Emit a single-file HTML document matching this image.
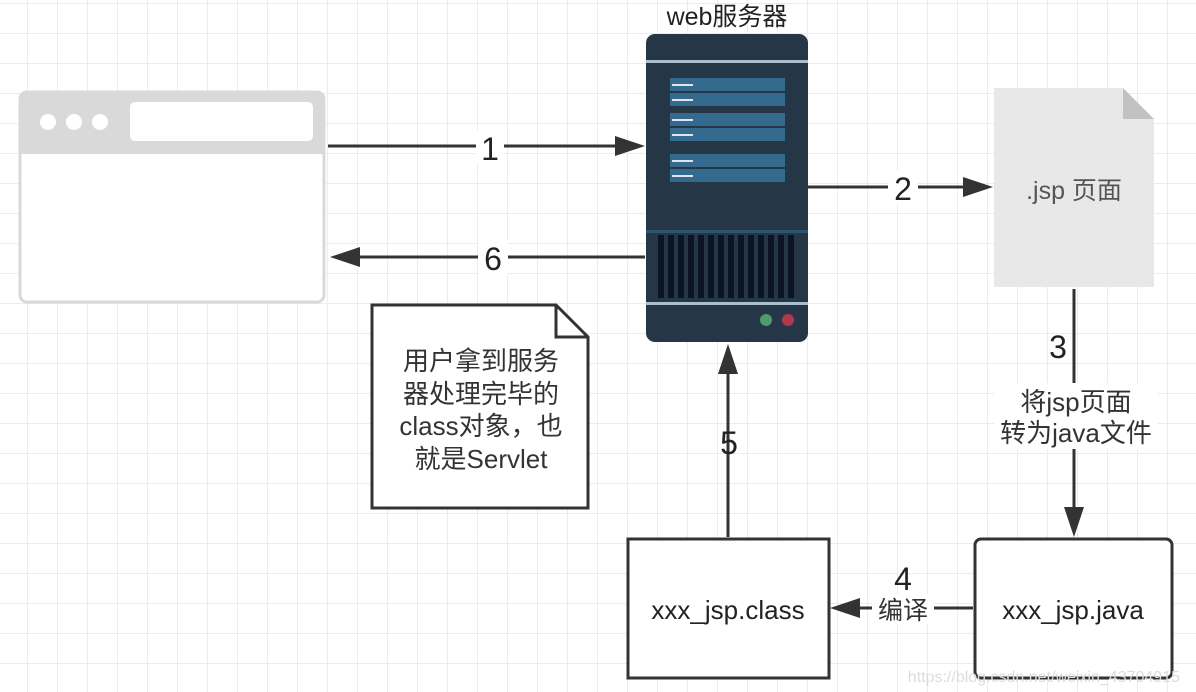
<!DOCTYPE html>
<html><head><meta charset="utf-8"><style>
html,body{margin:0;padding:0;background:#fff;}
svg{display:block;}
text{font-family:"Liberation Sans","Noto Sans CJK SC",sans-serif;}
</style></head><body>
<svg width="1196" height="692" viewBox="0 0 1196 692" xmlns="http://www.w3.org/2000/svg">
<defs>
<pattern id="g" x="27" y="3" width="30" height="30" patternUnits="userSpaceOnUse">
<path d="M0 0V30M0 0H30" stroke="#ececec" stroke-width="2" fill="none"/>
</pattern>
</defs>
<rect width="1196" height="692" fill="#fff"/>
<rect width="1196" height="692" fill="url(#g)"/>

<!-- browser -->
<rect x="20" y="92" width="304" height="210" rx="7" fill="#fff" stroke="#d9d9d9" stroke-width="3"/>
<path d="M20 99a7 7 0 0 1 7-7h290a7 7 0 0 1 7 7v55H20z" fill="#d9d9d9"/>
<circle cx="48" cy="122" r="8" fill="#fff"/><circle cx="74" cy="122" r="8" fill="#fff"/><circle cx="100" cy="122" r="8" fill="#fff"/>
<rect x="130" y="102" width="183" height="39" rx="5" fill="#fff"/>

<!-- server -->
<text x="727" y="25" font-size="25" fill="#222" text-anchor="middle">web服务器</text>
<rect x="646" y="34" width="162" height="308" rx="9" fill="#253746"/>
<rect x="646" y="60" width="162" height="3" fill="#a9bfd0"/>
<g fill="#346a8e">
<rect x="670" y="78" width="115" height="13"/><rect x="670" y="93" width="115" height="13"/>
<rect x="670" y="113" width="115" height="13"/><rect x="670" y="128" width="115" height="13"/>
<rect x="670" y="154" width="115" height="13"/><rect x="670" y="169" width="115" height="13"/>
</g>
<g fill="#dde6ee">
<rect x="672" y="84" width="21" height="2"/><rect x="672" y="99" width="21" height="2"/>
<rect x="672" y="119" width="21" height="2"/><rect x="672" y="134" width="21" height="2"/>
<rect x="672" y="160" width="21" height="2"/><rect x="672" y="175" width="21" height="2"/>
</g>
<rect x="646" y="230" width="162" height="3" fill="#2f5570"/>
<g fill="#0b1422">
<rect x="658" y="235" width="6" height="63"/><rect x="668" y="235" width="6" height="63"/><rect x="678" y="235" width="6" height="63"/><rect x="688" y="235" width="6" height="63"/><rect x="698" y="235" width="6" height="63"/><rect x="708" y="235" width="6" height="63"/><rect x="718" y="235" width="6" height="63"/><rect x="728" y="235" width="6" height="63"/><rect x="738" y="235" width="6" height="63"/><rect x="748" y="235" width="6" height="63"/><rect x="758" y="235" width="6" height="63"/><rect x="768" y="235" width="6" height="63"/><rect x="778" y="235" width="6" height="63"/><rect x="788" y="235" width="6" height="63"/>
</g>
<rect x="646" y="302" width="162" height="3" fill="#a9bfd0"/>
<circle cx="766" cy="320" r="6" fill="#4f9a6e"/><circle cx="788" cy="320" r="6" fill="#b0394f"/>

<!-- jsp doc -->
<path d="M994 88H1123L1154 119V287H994z" fill="#e8e8e8"/>
<path d="M1123 88L1154 119H1123z" fill="#c2c2c2"/>
<text x="1074" y="199" font-size="25" fill="#555" text-anchor="middle">.jsp 页面</text>

<!-- note -->
<path d="M372 305H556L588 337V508H372z" fill="#fff" stroke="#333" stroke-width="3"/>
<path d="M556 305V337H588" fill="none" stroke="#333" stroke-width="3"/>
<g font-size="26" fill="#333" text-anchor="middle">
<text x="481" y="370">用户拿到服务</text>
<text x="481" y="403">器处理完毕的</text>
<text x="481" y="435">class对象，也</text>
<text x="481" y="468">就是Servlet</text>
</g>

<!-- boxes -->
<rect x="628" y="539" width="201" height="139" fill="#fff" stroke="#333" stroke-width="3"/>
<text x="728" y="619" font-size="26" fill="#222" text-anchor="middle">xxx_jsp.class</text>
<rect x="975" y="539" width="197" height="139" rx="6" fill="#fff" stroke="#333" stroke-width="3"/>
<text x="1073" y="619" font-size="26" fill="#222" text-anchor="middle">xxx_jsp.java</text>

<!-- arrows -->
<g stroke="#333" stroke-width="3" fill="none">
<path d="M328 146H615"/>
<path d="M645 257H360"/>
<path d="M808 187H963"/>
<path d="M1074 289V507"/>
<path d="M973 608H860"/>
<path d="M728 537V374"/>
</g>
<g fill="#333">
<path d="M645 146L615 136V156z"/>
<path d="M330 257L360 247V267z"/>
<path d="M993 187L963 177V197z"/>
<path d="M1074 537L1064 507H1084z"/>
<path d="M830 608L860 598V618z"/>
<path d="M728 344L718 374H738z"/>
</g>

<!-- labels -->
<g font-size="32" fill="#222" text-anchor="middle">
<rect x="476" y="130" width="28" height="34" fill="#fff"/><text x="490" y="160">1</text>
<rect x="478" y="240" width="30" height="34" fill="#fff"/><text x="493" y="270">6</text>
<rect x="888" y="170" width="30" height="34" fill="#fff"/><text x="903" y="200">2</text>
<text x="1058" y="358">3</text>
<text x="729" y="454">5</text>
<text x="903" y="590">4</text>
</g>
<rect x="994" y="383" width="164" height="66" fill="#fff"/>
<g font-size="26" fill="#333" text-anchor="middle">
<text x="1076" y="411">将jsp页面</text>
<text x="1076" y="442">转为java文件</text>
</g>
<rect x="872" y="594" width="62" height="30" fill="#fff"/>
<text x="903" y="619" font-size="25" fill="#333" text-anchor="middle">编译</text>

<text x="1180" y="682" font-size="16" fill="#dcdcdc" text-anchor="end">https://blog.csdn.net/weixin_43704915</text>
</svg>
</body></html>
